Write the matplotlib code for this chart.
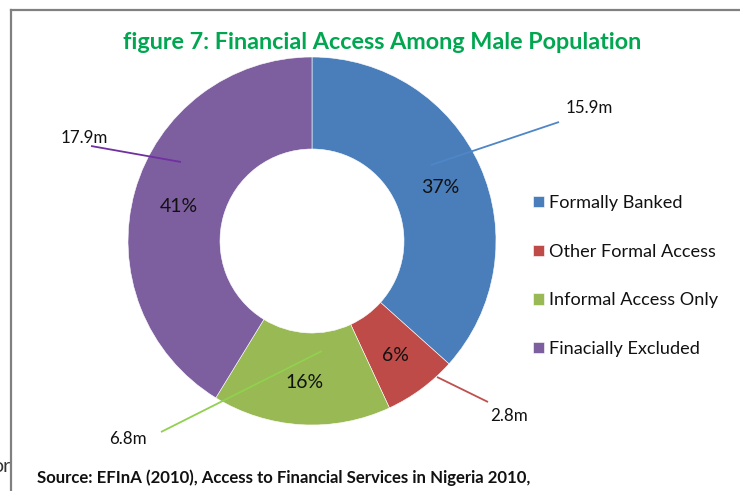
import matplotlib
matplotlib.use("Agg")
import matplotlib.pyplot as plt
from matplotlib.lines import Line2D

categories = ["Formally Banked", "Other Formal Access", "Informal Access Only", "Finacially Excluded"]
values_m = [15.9, 2.8, 6.8, 17.9]
value_labels = ["15.9m", "2.8m", "6.8m", "17.9m"]
colors = ["#4A7EBB", "#BE4B48", "#98B954", "#7D5FA0"]
line_colors = ["#4F86C6", "#C0504D", "#92D050", "#7030A0"]
title = "figure 7: Financial Access Among Male Population"
source = "Source: EFInA (2010), Access to Financial Services in Nigeria 2010,"

W, H = 740, 491
FONT = ["Lato", "DejaVu Sans"]
plt.rcParams["font.family"] = FONT

fig = plt.figure(figsize=(W / 100, H / 100), dpi=100)
ax = fig.add_axes([0, 0, 1, 1])
ax.set_xlim(0, W)
ax.set_ylim(0, H)
ax.set_aspect("equal")
ax.axis("off")

def Y(y):
    return H - y

cx, cy, R = 312, Y(241), 184
wedges, texts, autotexts = ax.pie(
    values_m, colors=colors, startangle=90, counterclock=False,
    center=(cx, cy), radius=R, autopct="%1.0f%%", pctdistance=0.755,
    wedgeprops=dict(width=R * 0.5, edgecolor="white", linewidth=0.4),
    textprops=dict(fontsize=14, color="#111111"), frame=True)
ax.set_xlim(0, W)
ax.set_ylim(0, H)
ax.axis("off")
for t in autotexts:
    x, y = t.get_position()
    t.set_position((x + 1, y - 3))

# leader lines + value labels (layout positions in pixels)
line_start = [(431, 165), (437, 377), (322, 351), (181, 162)]
line_end = [(559, 122), (488, 402), (161, 432), (91, 146)]
label_pos = [(589, 108), (509, 416), (128, 439), (84, 138)]
for i in range(len(values_m)):
    (x0, y0), (x1, y1) = line_start[i], line_end[i]
    ax.plot([x0, x1], [Y(y0), Y(y1)], color=line_colors[i], lw=1.3, solid_capstyle="butt")
    ax.text(label_pos[i][0], Y(label_pos[i][1]), value_labels[i], fontsize=12.2,
            ha="center", va="center", color="#111111")

ax.text(382, Y(42), title, fontsize=16.8, fontweight="bold", color="#00A650",
        ha="center", va="center")

leg = ax.legend(wedges, categories, loc="upper left", bbox_to_anchor=(533 / W, 1 - 195 / H),
                bbox_transform=fig.transFigure, frameon=False, fontsize=13.1,
                handlelength=0.58, handleheight=0.58, handletextpad=0.32,
                labelspacing=1.8, borderpad=0, borderaxespad=0)
for t in leg.get_texts():
    t.set_color("#111111")

ax.text(37, Y(478), source, fontsize=12.1, fontweight="bold", color="#111111",
        ha="left", va="center")
ax.text(10, Y(466), "or", fontsize=14, color="#333333", ha="right", va="center")

# frame around the chart
fig.add_artist(Line2D([11 / W, 1.01], [1 - 10 / H, 1 - 10 / H], transform=fig.transFigure,
                      color="#808080", lw=1.6))
fig.add_artist(Line2D([11 / W, 11 / W], [1 - 10 / H, -0.01], transform=fig.transFigure,
                      color="#808080", lw=1.6))

fig.savefig("out.png", dpi=100, facecolor="white")
